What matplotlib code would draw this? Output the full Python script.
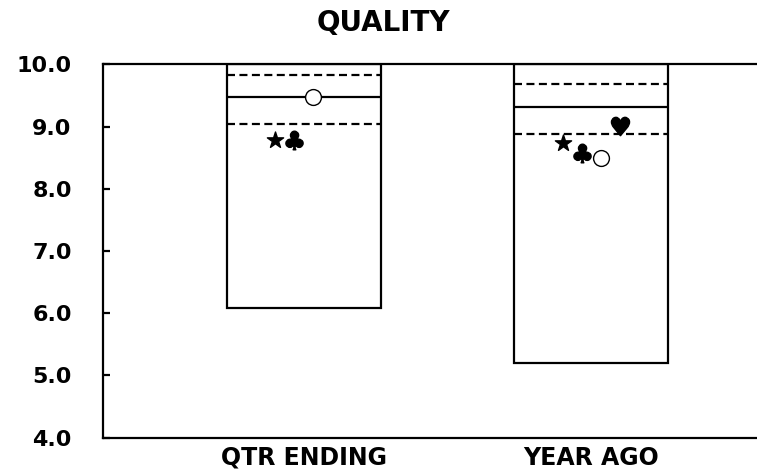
import numpy as np
import matplotlib
matplotlib.use("Agg")
import matplotlib.pyplot as plt

plt.rcParams['font.family'] = ['DejaVu Sans']
plt.rcParams['font.weight'] = 'bold'

categories = ["QTR ENDING", "YEAR AGO"]
box_low = [6.08, 5.20]
box_high = [10.0, 10.0]
median = [9.48, 9.31]
upper_dash = [9.83, 9.69]
lower_dash = [9.05, 8.88]

# symbol values per period (nan = not shown)
star_vals = [8.79, 8.73]
club_vals = [8.78, 8.57]
circle_vals = [9.48, 8.49]
heart_vals = [np.nan, 9.01]

yticks = [4.0, 5.0, 6.0, 7.0, 8.0, 9.0, 10.0]

fig = plt.figure(figsize=(7.57, 4.74), dpi=100)
ax = fig.add_axes([0.136, 0.077, 0.864, 0.787])

x = np.array([1.0, 2.0])
box_w = 0.536
lw = 1.6
dash = (0, (3.6, 2.0))

ax.bar(x, np.array(box_high) - np.array(box_low), bottom=box_low, width=box_w,
       fill=False, edgecolor='black', linewidth=lw, zorder=2)
ax.hlines(median, x - box_w / 2, x + box_w / 2, colors='black', linewidth=lw, zorder=3)
ax.hlines(upper_dash, x - box_w / 2, x + box_w / 2, colors='black', linewidth=lw,
          linestyles=dash, zorder=3)
ax.hlines(lower_dash, x - box_w / 2, x + box_w / 2, colors='black', linewidth=lw,
          linestyles=dash, zorder=3)

ax.scatter(x - 0.1, star_vals, marker='*', s=150, color='black', zorder=4)
ax.scatter(x - 0.033, club_vals, marker='$\u2663$', s=180, color='black', zorder=4)
ax.scatter(x + 0.033, circle_vals, marker='o', s=130, facecolors='white',
           edgecolors='black', linewidths=1.0, zorder=4)
ax.scatter(x + 0.1, heart_vals, marker='$\u2665$', s=175, color='black', zorder=4)

ax.set_xlim(0.301, 2.576)
ax.set_ylim(4.0, 10.0)
ax.set_yticks(yticks)
ax.set_yticklabels([f"{v:.1f}" for v in yticks])
ax.set_xticks(x)
ax.set_xticklabels(categories)

ax.tick_params(axis='y', direction='in', length=5, width=lw, pad=22.5, labelsize=16)
ax.tick_params(axis='x', length=0, pad=6, labelsize=17)
for lab in ax.get_xticklabels() + ax.get_yticklabels():
    lab.set_fontweight('bold')

ax.spines['right'].set_visible(False)
for s in ['left', 'top', 'bottom']:
    ax.spines[s].set_linewidth(lw)

fig.text(0.507, 0.952, "QUALITY", ha='center', va='center', fontsize=20, fontweight='bold')

fig.savefig("out.png", dpi=100)
